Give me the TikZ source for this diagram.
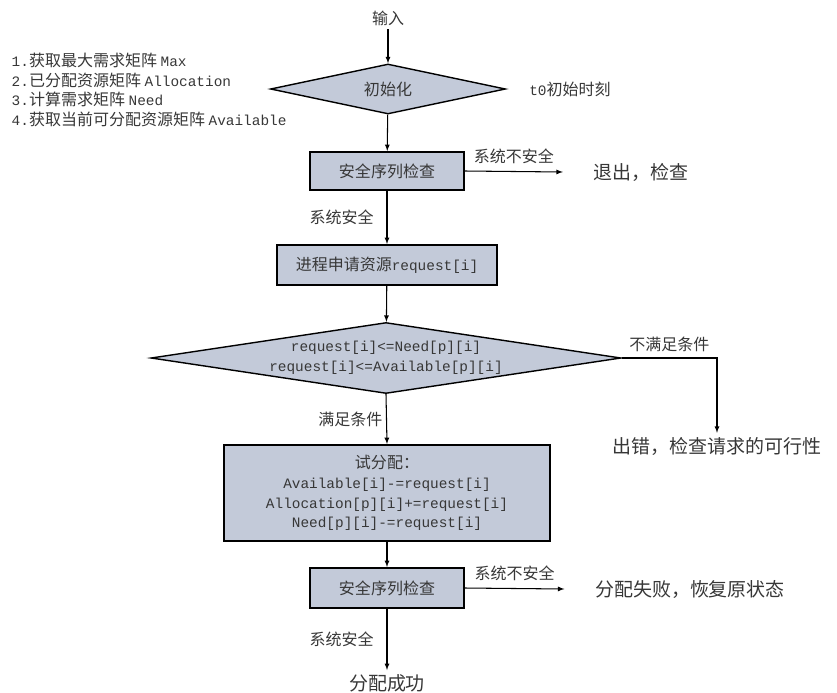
\documentclass[tikz,border=0pt]{standalone}
\usepackage{fontspec}
\setmainfont{Noto Sans CJK SC}
\newfontfamily\mono{Liberation Mono}[Scale=0.9]
\usepackage{tikz}
\usetikzlibrary{shapes,arrows,calc}

\definecolor{boxfill}{RGB}{195,202,217}
\definecolor{txtgray}{RGB}{55,55,55}

\tikzset{
    box/.style={draw, line width=1.6pt, fill=boxfill, text=txtgray, align=center},
    decide/.style={draw, diamond, line width=1.2pt, fill=boxfill, text=txtgray, align=center, inner sep=0pt},
    lab/.style={text=txtgray, inner sep=3pt},
    res/.style={text=txtgray, font=\fontsize{16.2}{19}\selectfont},
    arr/.style={-latex, line width=0.9pt},
}

\begin{document}
\begin{tikzpicture}[x=0.03cm, y=-0.03cm, font=\fontsize{13.66}{16.8}\selectfont]
        \useasboundingbox (0,0) rectangle (837,692);
        % start
        \node[lab] (in) at (388,18) {输入};
        \node[decide, shape aspect=4.7, minimum width=7.05cm, minimum height=1.5cm] (init) at (388,89) {初始化};
        \node[lab, anchor=west, align=left] (steps) at (8,90)
            {{\mono 1.}获取最大需求矩阵 {\mono Max}\\
             {\mono 2.}已分配资源矩阵 {\mono Allocation}\\
             {\mono 3.}计算需求矩阵 {\mono Need}\\
             {\mono 4.}获取当前可分配资源矩阵 {\mono Available}};
        \node[lab] (t0) at (570,89) {{\mono t0}初始时刻};
        \draw[arr] (in) -- (init);

        % first safety check
        \node[box, minimum width=4.62cm, minimum height=1.14cm] (chk1) at (387,171) {安全序列检查};
        \node[res, inner xsep=26pt] (quit) at (641,172) {退出，检查};
        \draw[arr] (init) -- (chk1);
        \draw[arr] (chk1.east) -- node[lab, above, yshift=3pt] {系统不安全} (quit.west);

        % request
        \node[box, minimum width=6.6cm, minimum height=1.2cm] (req) at (387,265) {进程申请资源{\mono request[i]}};
        \draw[arr] (chk1) -- node[lab, left, xshift=-8pt] {系统安全} (req);

        \node[decide, shape aspect=6.6, minimum width=14.1cm, minimum height=2.13cm] (cond) at (386,358)
            {{\mono request[i]<=Need[p][i]}\\{\mono request[i]<=Available[p][i]}};
        \draw[arr] (req) -- (cond);
        \node[res] (err) at (717,446) {出错，检查请求的可行性};
        \draw[arr] (cond.east) -| node[lab, above, pos=0.25, yshift=2pt] {不满足条件} (err.north);

        % trial allocation
        \node[box, minimum width=9.78cm, minimum height=2.88cm] (try) at (387,493)
            {试分配：\\{\mono Available[i]-=request[i]}\\{\mono Allocation[p][i]+=request[i]}\\{\mono Need[p][i]-=request[i]}};
        \draw[arr] (cond.south) -- node[lab, left] {满足条件} (try.north);

        % second safety check
        \node[box, minimum width=4.62cm, minimum height=1.2cm] (chk2) at (387,588) {安全序列检查};
        \draw[arr] (try) -- (chk2);
        \node[res, inner xsep=26pt] (fail) at (690,589) {分配失败，恢复原状态};
        \draw[arr] (chk2.east) -- node[lab, above, yshift=3pt] {系统不安全} (fail.west);
        \node[res] (ok) at (387,683) {分配成功};
        \draw[arr] (chk2) -- node[lab, left, xshift=-8pt] {系统安全} (ok);
    \end{tikzpicture}
\end{document}
